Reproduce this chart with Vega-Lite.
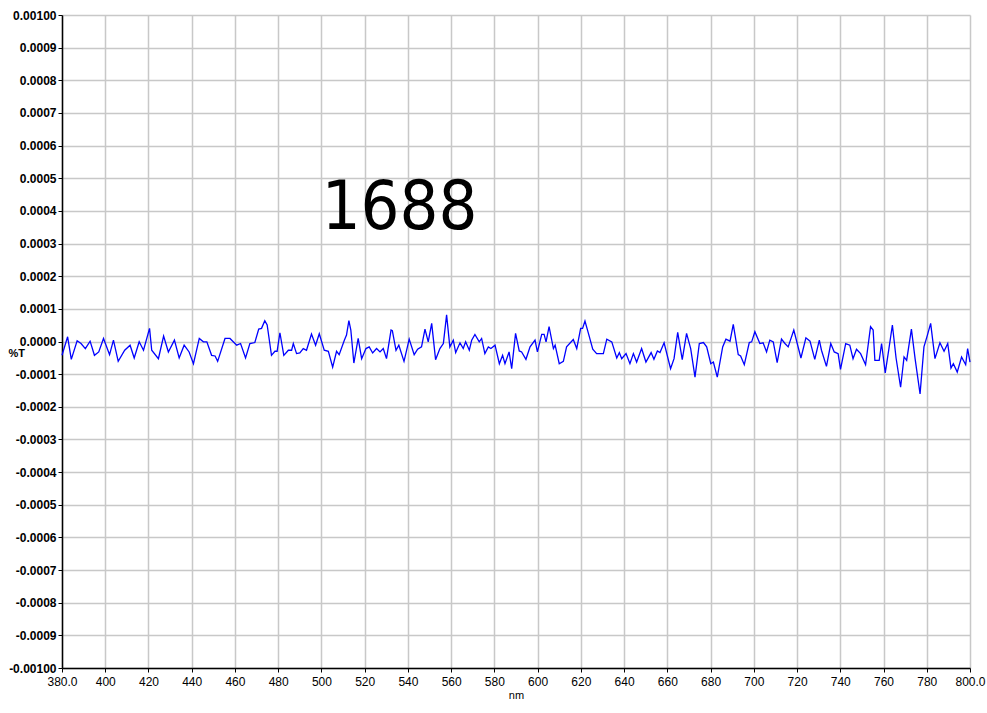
{
  "$schema": "https://vega.github.io/schema/vega-lite/v6.json",
  "width": 908,
  "height": 653,
  "autosize": {"type": "none"},
  "padding": {"left": 62, "top": 15, "right": 17, "bottom": 45},
  "background": "white",
  "config": {"view": {"stroke": null}, "font": "Liberation Sans", "axis": {"labelOverlap": false}},
  "datasets": {
    "spec": [
      {"nm": 380.0, "T": -0.423}, {"nm": 382.6, "T": 0.144}, {"nm": 384.3, "T": -0.546}, {"nm": 387.0, "T": 0.021},
      {"nm": 388.8, "T": -0.062}, {"nm": 390.8, "T": -0.216}, {"nm": 393.0, "T": 0.010}, {"nm": 395.0, "T": -0.423},
      {"nm": 397.0, "T": -0.320}, {"nm": 399.2, "T": 0.093}, {"nm": 402.0, "T": -0.402}, {"nm": 403.8, "T": 0.041},
      {"nm": 406.0, "T": -0.608}, {"nm": 409.0, "T": -0.268}, {"nm": 411.5, "T": -0.113}, {"nm": 413.4, "T": -0.505},
      {"nm": 415.7, "T": -0.010}, {"nm": 417.7, "T": -0.268}, {"nm": 420.5, "T": 0.402}, {"nm": 421.5, "T": -0.268},
      {"nm": 424.6, "T": -0.526}, {"nm": 427.0, "T": 0.165}, {"nm": 429.2, "T": -0.320}, {"nm": 432.0, "T": 0.041},
      {"nm": 434.2, "T": -0.505}, {"nm": 436.5, "T": -0.113}, {"nm": 438.8, "T": -0.320}, {"nm": 440.8, "T": -0.680},
      {"nm": 443.5, "T": 0.093}, {"nm": 445.4, "T": -0.010}, {"nm": 447.0, "T": -0.010}, {"nm": 449.2, "T": -0.423},
      {"nm": 450.8, "T": -0.443}, {"nm": 452.0, "T": -0.608}, {"nm": 455.4, "T": 0.093}, {"nm": 457.7, "T": 0.093},
      {"nm": 460.8, "T": -0.113}, {"nm": 462.6, "T": -0.062}, {"nm": 464.9, "T": -0.505}, {"nm": 466.9, "T": -0.062},
      {"nm": 469.2, "T": -0.031}, {"nm": 471.0, "T": 0.381}, {"nm": 472.3, "T": 0.402}, {"nm": 473.8, "T": 0.639},
      {"nm": 474.9, "T": 0.505}, {"nm": 476.9, "T": -0.423}, {"nm": 478.5, "T": -0.299}, {"nm": 479.5, "T": -0.299},
      {"nm": 480.8, "T": 0.268}, {"nm": 482.6, "T": -0.423}, {"nm": 484.7, "T": -0.268}, {"nm": 486.2, "T": -0.268},
      {"nm": 487.0, "T": -0.062}, {"nm": 488.5, "T": -0.371}, {"nm": 490.0, "T": -0.351}, {"nm": 491.6, "T": -0.216},
      {"nm": 493.1, "T": -0.268}, {"nm": 495.4, "T": 0.227}, {"nm": 497.3, "T": -0.113}, {"nm": 499.0, "T": 0.237},
      {"nm": 501.3, "T": -0.268}, {"nm": 503.2, "T": -0.299}, {"nm": 505.2, "T": -0.784}, {"nm": 507.0, "T": -0.299},
      {"nm": 508.2, "T": -0.402}, {"nm": 510.6, "T": 0.041}, {"nm": 511.6, "T": 0.196}, {"nm": 512.7, "T": 0.639},
      {"nm": 513.6, "T": 0.351}, {"nm": 515.0, "T": -0.660}, {"nm": 517.0, "T": 0.093}, {"nm": 518.6, "T": -0.526},
      {"nm": 520.6, "T": -0.216}, {"nm": 522.1, "T": -0.165}, {"nm": 523.7, "T": -0.351}, {"nm": 525.5, "T": -0.216},
      {"nm": 527.1, "T": -0.320}, {"nm": 528.6, "T": -0.216}, {"nm": 530.1, "T": -0.526}, {"nm": 532.2, "T": 0.351},
      {"nm": 532.8, "T": 0.330}, {"nm": 534.5, "T": -0.268}, {"nm": 535.8, "T": -0.113}, {"nm": 538.2, "T": -0.608},
      {"nm": 540.6, "T": 0.072}, {"nm": 542.9, "T": -0.402}, {"nm": 544.5, "T": -0.237}, {"nm": 546.3, "T": -0.165},
      {"nm": 547.9, "T": 0.381}, {"nm": 549.4, "T": -0.010}, {"nm": 551.0, "T": 0.557}, {"nm": 552.8, "T": -0.557},
      {"nm": 554.8, "T": -0.216}, {"nm": 556.4, "T": -0.062}, {"nm": 557.9, "T": 0.814}, {"nm": 559.4, "T": -0.165},
      {"nm": 561.0, "T": 0.041}, {"nm": 562.1, "T": -0.340}, {"nm": 564.1, "T": -0.041}, {"nm": 565.6, "T": -0.216},
      {"nm": 566.7, "T": -0.010}, {"nm": 568.4, "T": -0.268}, {"nm": 569.5, "T": 0.041}, {"nm": 571.0, "T": 0.216},
      {"nm": 573.0, "T": -0.010}, {"nm": 574.1, "T": 0.093}, {"nm": 575.6, "T": -0.371}, {"nm": 577.2, "T": -0.165},
      {"nm": 578.4, "T": -0.216}, {"nm": 580.3, "T": -0.113}, {"nm": 582.3, "T": -0.680}, {"nm": 583.8, "T": -0.423},
      {"nm": 584.9, "T": -0.680}, {"nm": 586.8, "T": -0.320}, {"nm": 588.0, "T": -0.835}, {"nm": 589.8, "T": 0.247},
      {"nm": 591.5, "T": -0.289}, {"nm": 592.6, "T": -0.320}, {"nm": 594.6, "T": -0.546}, {"nm": 596.5, "T": -0.165},
      {"nm": 598.8, "T": 0.041}, {"nm": 599.9, "T": -0.320}, {"nm": 601.9, "T": 0.216}, {"nm": 603.0, "T": 0.216},
      {"nm": 603.9, "T": -0.010}, {"nm": 605.3, "T": 0.454}, {"nm": 607.3, "T": -0.216}, {"nm": 608.1, "T": -0.113},
      {"nm": 610.0, "T": -0.680}, {"nm": 611.9, "T": -0.608}, {"nm": 613.4, "T": -0.165}, {"nm": 616.5, "T": 0.062},
      {"nm": 618.1, "T": -0.216}, {"nm": 619.9, "T": 0.402}, {"nm": 620.8, "T": 0.402}, {"nm": 621.9, "T": 0.629},
      {"nm": 623.5, "T": 0.247}, {"nm": 625.5, "T": -0.237}, {"nm": 627.3, "T": -0.371}, {"nm": 630.4, "T": -0.371},
      {"nm": 632.0, "T": 0.072}, {"nm": 634.3, "T": -0.010}, {"nm": 636.6, "T": -0.505}, {"nm": 637.8, "T": -0.340},
      {"nm": 638.9, "T": -0.526}, {"nm": 640.9, "T": -0.371}, {"nm": 642.7, "T": -0.680}, {"nm": 644.3, "T": -0.371},
      {"nm": 645.8, "T": -0.629}, {"nm": 648.1, "T": -0.216}, {"nm": 650.1, "T": -0.629}, {"nm": 652.5, "T": -0.340},
      {"nm": 653.8, "T": -0.546}, {"nm": 655.4, "T": -0.289}, {"nm": 656.6, "T": -0.340}, {"nm": 658.5, "T": -0.041},
      {"nm": 661.5, "T": -0.835}, {"nm": 663.1, "T": -0.526}, {"nm": 664.8, "T": 0.278}, {"nm": 666.9, "T": -0.557},
      {"nm": 668.9, "T": 0.247}, {"nm": 670.8, "T": -0.216}, {"nm": 672.8, "T": -1.093}, {"nm": 674.8, "T": -0.062},
      {"nm": 676.7, "T": -0.031}, {"nm": 678.2, "T": -0.165}, {"nm": 680.1, "T": -0.680}, {"nm": 681.3, "T": -0.629},
      {"nm": 683.1, "T": -1.093}, {"nm": 685.6, "T": -0.165}, {"nm": 687.1, "T": 0.072}, {"nm": 689.0, "T": 0.010},
      {"nm": 690.5, "T": 0.526}, {"nm": 692.8, "T": -0.402}, {"nm": 693.9, "T": -0.443}, {"nm": 695.6, "T": -0.711},
      {"nm": 697.9, "T": -0.031}, {"nm": 699.0, "T": -0.010}, {"nm": 700.5, "T": 0.299}, {"nm": 702.8, "T": -0.062},
      {"nm": 704.3, "T": -0.041}, {"nm": 705.9, "T": -0.320}, {"nm": 707.4, "T": 0.041}, {"nm": 709.0, "T": -0.010},
      {"nm": 710.8, "T": -0.649}, {"nm": 712.8, "T": 0.072}, {"nm": 714.4, "T": -0.062}, {"nm": 715.9, "T": -0.165},
      {"nm": 718.5, "T": 0.351}, {"nm": 721.8, "T": -0.505}, {"nm": 724.1, "T": 0.113}, {"nm": 726.0, "T": 0.010},
      {"nm": 728.2, "T": -0.546}, {"nm": 730.3, "T": 0.041}, {"nm": 731.3, "T": -0.268}, {"nm": 733.6, "T": -0.763},
      {"nm": 735.6, "T": -0.062}, {"nm": 737.2, "T": -0.320}, {"nm": 739.0, "T": -0.371}, {"nm": 740.1, "T": -0.856},
      {"nm": 742.5, "T": -0.062}, {"nm": 744.4, "T": -0.113}, {"nm": 745.9, "T": -0.526}, {"nm": 747.5, "T": -0.237},
      {"nm": 749.4, "T": -0.371}, {"nm": 751.7, "T": -0.711}, {"nm": 754.0, "T": 0.454}, {"nm": 755.2, "T": 0.351},
      {"nm": 756.0, "T": -0.577}, {"nm": 758.0, "T": -0.577}, {"nm": 759.1, "T": -0.062}, {"nm": 760.8, "T": -0.959},
      {"nm": 762.5, "T": -0.216}, {"nm": 764.1, "T": 0.505}, {"nm": 765.8, "T": -0.505}, {"nm": 767.9, "T": -1.402},
      {"nm": 769.5, "T": -0.474}, {"nm": 770.7, "T": -0.577}, {"nm": 772.9, "T": 0.381}, {"nm": 774.6, "T": -0.526},
      {"nm": 776.9, "T": -1.608}, {"nm": 778.7, "T": -0.165}, {"nm": 780.3, "T": 0.196}, {"nm": 781.8, "T": 0.557},
      {"nm": 783.8, "T": -0.526}, {"nm": 786.1, "T": -0.041}, {"nm": 788.0, "T": -0.299}, {"nm": 789.7, "T": -0.062},
      {"nm": 791.2, "T": -0.814}, {"nm": 792.3, "T": -0.680}, {"nm": 794.1, "T": -0.938}, {"nm": 796.1, "T": -0.474},
      {"nm": 798.0, "T": -0.711}, {"nm": 798.9, "T": -0.216}, {"nm": 800.0, "T": -0.629}
    ],
    "note": [{"nm": 536.1, "T": 4.06, "label": "1688"}]
  },
  "encoding": {
    "x": {
      "field": "nm", "type": "quantitative",
      "scale": {"domain": [380, 800], "nice": false, "zero": false},
      "axis": {
        "title": "nm", "titleFontSize": 11, "titleFontWeight": "normal", "titleColor": "#000", "titlePadding": 2,
        "values": [380, 400, 420, 440, 460, 480, 500, 520, 540, 560, 580, 600, 620, 640, 660, 680, 700, 720, 740, 760, 780, 800],
        "labelExpr": "datum.value == 380 ? '380.0' : datum.value == 800 ? '800.0' : datum.label",
        "labelFontSize": 12, "labelColor": "#000", "labelPadding": 4, "labelFlush": false, "labelOverlap": false,
        "tickSize": 4, "tickColor": "#000", "domainColor": "#000", "domainWidth": 1.5,
        "grid": true, "gridColor": "#c8c8c8", "gridWidth": 1.5
      }
    },
    "y": {
      "field": "Tv", "type": "quantitative",
      "scale": {"domain": [-0.001, 0.001], "nice": false, "zero": false},
      "axis": {
        "title": "%T", "titleAngle": 0, "titleX": -54, "titleY": 338, "titleAlign": "left", "titleBaseline": "middle",
        "titleFontSize": 11, "titleFontWeight": "bold", "titleColor": "#000",
        "values": [-0.001, -0.0009, -0.0008, -0.0007, -0.0006, -0.0005, -0.0004, -0.0003, -0.0002, -0.0001, 0, 0.0001, 0.0002, 0.0003, 0.0004, 0.0005, 0.0006, 0.0007, 0.0008, 0.0009, 0.001],
        "labelExpr": "datum.value >= 0.00099 ? '0.00100' : datum.value <= -0.00099 ? '-0.00100' : (datum.value < -0.00000001 ? '-' : '') + format(abs(datum.value), '.4f')",
        "labelFontSize": 12, "labelFontWeight": "bold", "labelColor": "#000", "labelPadding": 2, "labelFlush": false, "labelOverlap": false, "labelSeparation": 0,
        "tickSize": 4, "tickColor": "#000", "domainColor": "#000", "domainWidth": 1.5,
        "grid": true, "gridColor": "#c8c8c8", "gridWidth": 1.5
      }
    }
  },
  "layer": [
    {
      "data": {"name": "spec"},
      "transform": [{"calculate": "datum.T / 10000", "as": "Tv"}],
      "mark": {"type": "line", "color": "#0000ff", "strokeWidth": 1.3, "interpolate": "linear"}
    },
    {
      "data": {"name": "note"},
      "transform": [{"calculate": "datum.T / 10000", "as": "Tv"}],
      "mark": {"type": "text", "font": "Liberation Sans Narrow, DejaVu Sans Condensed, Liberation Sans, sans-serif", "fontSize": 68, "color": "#000", "align": "center", "baseline": "middle"},
      "encoding": {
        "text": {"field": "label"}
      }
    }
  ]
}
